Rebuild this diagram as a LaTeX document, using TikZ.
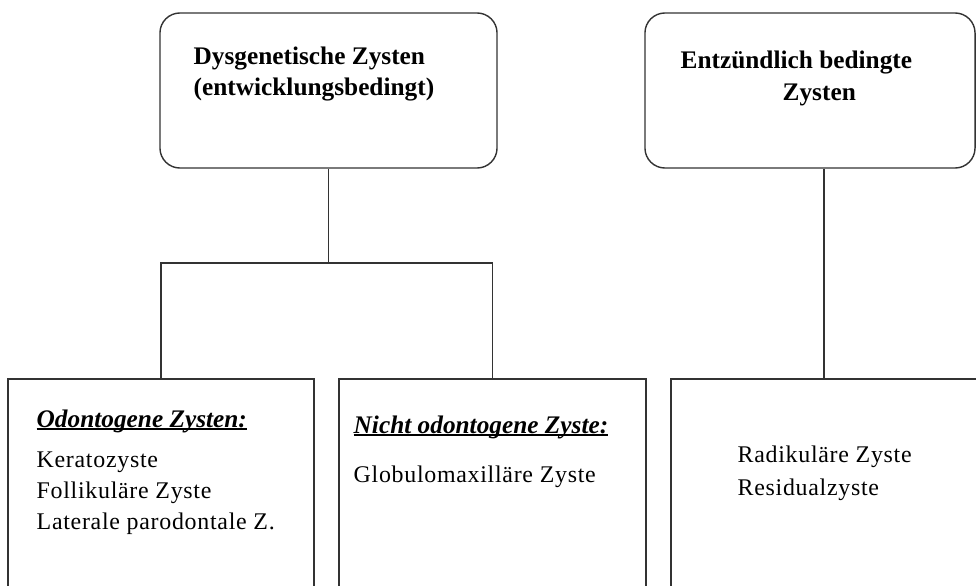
\documentclass[tikz,border=0pt]{standalone}
\usepackage{fontspec}
\setmainfont{Liberation Serif}
\newfontfamily\listfont[LetterSpace=3]{Liberation Serif}
\newcommand\ulhead[1]{\setbox0\hbox{#1}\rlap{\rule[-2.2pt]{\wd0}{1.3pt}}\box0}

\begin{document}
\begin{tikzpicture}[x=0.025cm, y=-0.025cm, line width=1pt,
    roundbox/.style={draw=black!80, rounded corners=0.5cm, minimum width=#1, minimum height=3.875cm, inner sep=0pt},
    sqbox/.style={draw=black!80, minimum width=#1, minimum height=6.025cm, inner sep=0pt},
    head/.style={font=\fontsize{18}{21}\selectfont\bfseries, inner sep=0pt, anchor=base west},
    sub/.style={font=\fontsize{18}{21}\selectfont\bfseries\itshape, inner sep=0pt, anchor=base west},
    item/.style={font=\fontsize{17}{21}\selectfont\listfont, inner sep=0pt, anchor=base west}]
    \clip (0,0) rectangle (976,586);
    \node[roundbox=8.425cm] (dys) at (328.5,90.5) {};
    \node[roundbox=8.25cm] (ent) at (810,90.5) {};
    \node[sqbox=7.65cm] (odo) at (161,499.5) {};
    \node[sqbox=7.675cm] (nod) at (492.5,499.5) {};
    \node[sqbox=7.975cm] (rad) at (830.5,499.5) {};
    \coordinate (fork) at (328.5,263);
    \coordinate (rline) at (824,263);
    \draw[black!80] (dys.south) -- (dys.south |- fork);
    \draw[black!80] (odo.north) -- (odo.north |- fork) -- (nod.north |- fork) -- (nod.north);
    \draw[black!80] (ent.south -| rline) -- (rad.north -| rline);
    \node[head] (dys1) at (193,64) {Dysgenetische Zysten};
    \node[head] (dys2) at (193,95) {(entwicklungsbedingt)};
    \node[head] (ent1) at (680,68) {Entzündlich bedingte};
    \node[head] (ent2) at (782,100) {Zysten};
    \node[sub] (odoh) at (36,427) {\ulhead{Odontogene Zysten:}};
    \node[sub] (nodh) at (353,433) {\ulhead{Nicht odontogene Zyste:}};
    \foreach \t [count=\i] in {Keratozyste, Follikuläre Zyste, Laterale parodontale Z.}
    {
    \node[item] (odo\i) at (36,{436+31*\i}) {\t};
    }
    \node[item] (nod1) at (353,482) {Globulomaxilläre Zyste};
    \foreach \t [count=\i] in {Radikuläre Zyste, Residualzyste}
    {
    \node[item] (rad\i) at (737,{429+33*\i}) {\t};
    }
\end{tikzpicture}
\end{document}
